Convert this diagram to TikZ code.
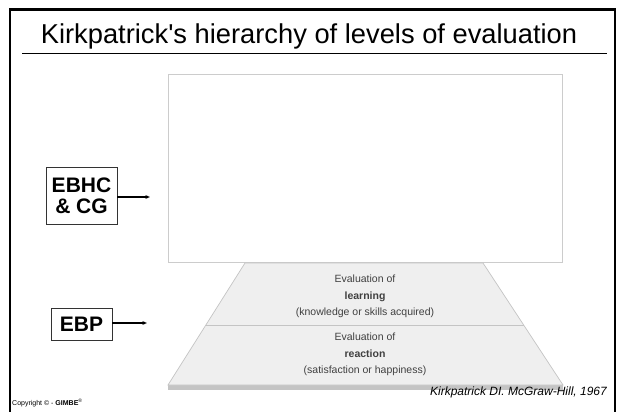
\documentclass[tikz,border=0pt]{standalone}
\usepackage{fontspec}
\setmainfont{Liberation Sans}
\usetikzlibrary{arrows.meta}
\definecolor{pyrfill}{HTML}{EFEFEF}
\definecolor{pyredge}{HTML}{C4C4C4}
\definecolor{pyrtext}{HTML}{404040}
\tikzset{
  labelbox/.style={draw=black!80, line width=0.6pt, fill=white, font=\fontsize{21}{22}\selectfont\bfseries, align=center, inner sep=0pt},
  pointer/.style={-{Triangle[length=4.5pt,width=3.5pt]}, line width=1.1pt, black},
  tiertext/.style={text=pyrtext, font=\fontsize{10.5}{16.5}\selectfont, align=center},
}
\begin{document}
\begin{tikzpicture}[x=1pt,y=-1pt]
\useasboundingbox (0,0) rectangle (619,412);
\fill[white] (0,0) rectangle (619,412);
% frame
\draw[line width=2.2pt] (10,413) -- (10,9.5) -- (615,9.5) -- (615,413);
% title
\node[anchor=base, font=\fontsize{27.3}{30}\selectfont, inner sep=0pt] (title) at (309,43.5) {Kirkpatrick\textquotesingle s hierarchy of levels of evaluation};
\draw[line width=0.9pt] (22,53.5) -- (607,53.5);
% white box
\draw[draw=black!20, line width=0.6pt, fill=white] (168,74.5) rectangle (562,262);
% pyramid
\fill[pyredge] (168,384.5) rectangle (563,390);
\draw[draw=pyredge, line width=0.7pt, fill=pyrfill] (245,263) -- (483,263) -- (563,385) -- (168,385) -- cycle;
\draw[draw=pyredge, line width=0.7pt] (206,325) -- (524,325);
\node[tiertext] (learn) at (365,296.5) {Evaluation of\\\textbf{learning}\\(knowledge or skills acquired)};
\node[tiertext] (react) at (365,354.5) {Evaluation of\\\textbf{reaction}\\(satisfaction or happiness)};
% left boxes
\node[labelbox, minimum width=71pt, minimum height=57pt] (ebhc) at (81.5,195.5) {EBHC\\[-1pt]\& CG};
\node[labelbox, minimum width=61pt, minimum height=32pt] (ebp) at (81.5,324) {EBP};
\coordinate (ebhcend) at (150,197);
\coordinate (ebpend) at (147,323);
\draw[pointer] (ebhc.east |- ebhcend) -- (ebhcend);
\draw[pointer] (ebp.east |- ebpend) -- (ebpend);
% footer
\node[anchor=base east, font=\fontsize{12}{14}\selectfont\itshape, inner sep=0pt] (ref) at (607,395.5) {Kirkpatrick DI. McGraw-Hill, 1967};
\node[anchor=base west, font=\fontsize{7}{8}\selectfont, inner sep=0pt] (copy) at (12,405.5) {Copyright © - \textbf{GIMBE}\textsuperscript{®}};
\end{tikzpicture}
\end{document}
